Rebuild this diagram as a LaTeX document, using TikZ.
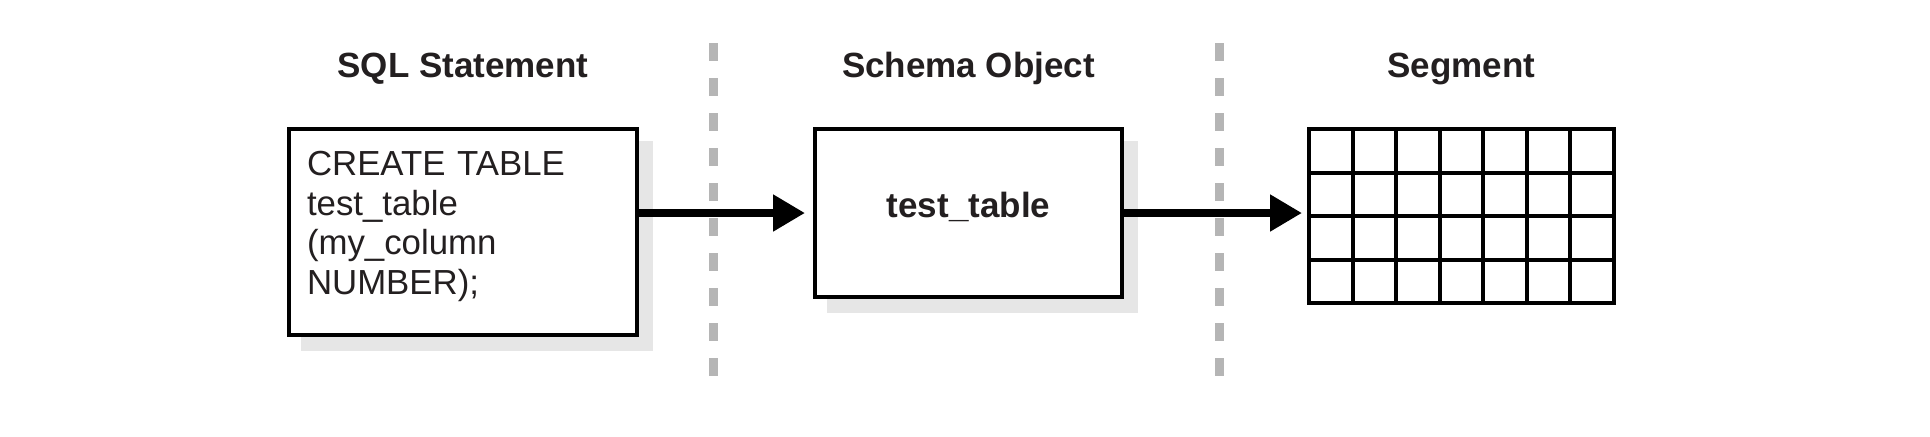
\documentclass[tikz,border=0pt]{standalone}
\usepackage{fontspec}
\setmainfont{Liberation Sans}
\usetikzlibrary{positioning,arrows.meta,shadows}
\definecolor{inkblack}{RGB}{35,31,32}
\definecolor{shadowgray}{RGB}{230,230,230}
\definecolor{dividergray}{RGB}{181,181,181}

\begin{document}
\begin{tikzpicture}[
    box/.style={rectangle, draw=black, fill=white, line width=2pt, inner sep=0pt, outer sep=0pt, text=inkblack,
        drop shadow={shadow xshift=6.75pt, shadow yshift=-6.75pt, fill=shadowgray, draw=shadowgray, line width=2pt, opacity=1}},
    heading/.style={inner sep=0pt, outer sep=0pt, text depth=0pt, text=inkblack, font=\fontsize{17.5pt}{20pt}\selectfont\bfseries},
    segbox/.style={rectangle, draw=black, line width=2pt, inner sep=0pt, outer sep=0pt, minimum width=152.25pt, minimum height=87pt},
    flow/.style={line width=4pt, -{Triangle[length=16pt, width=17.5pt]}},
    divider/.style={draw=dividergray, line width=4.5pt, dash pattern=on 8.65pt off 8.85pt}
]
\useasboundingbox (0,0) rectangle (965pt,-218pt);

\node[box, minimum width=174pt, minimum height=103pt, text width=156pt, align=left,
    font=\fontsize{17.4pt}{19.7pt}\selectfont] (sql) at (231.5pt,-116pt)
    {CREATE TABLE\\test\_table\\(my\_column\\NUMBER);\rule[-9.2pt]{0pt}{9.2pt}};
\node[box, minimum width=153.5pt, minimum height=84pt, right=89pt of sql.north east, anchor=north west,
    text depth=8.6pt, font=\fontsize{17.5pt}{20pt}\selectfont\bfseries] (obj) {test\_table};
\node[segbox, right=93.5pt of obj.north east, anchor=north west] (seg) {};
\draw[line width=2pt, shift={(seg.south west)}] (0,0) grid[step=21.75pt] (152.25pt,87pt);

\node[heading, above=25.6pt of sql] (sqlhead) {SQL Statement};
\node[heading, above=25.6pt of obj] (objhead) {Schema Object};
\node[heading, above=25.6pt of seg] (seghead) {Segment};

\draw[divider] (356.5pt,-21.65pt) -- (356.5pt,-187.85pt);
\draw[divider] (609.5pt,-21.65pt) -- (609.5pt,-187.85pt);

\draw[flow, shorten >=5pt] (sql.east |- obj.west) -- (obj.west);
\draw[flow, shorten >=3.5pt] (obj.east) -- (seg.west |- obj.east);

\end{tikzpicture}
\end{document}
